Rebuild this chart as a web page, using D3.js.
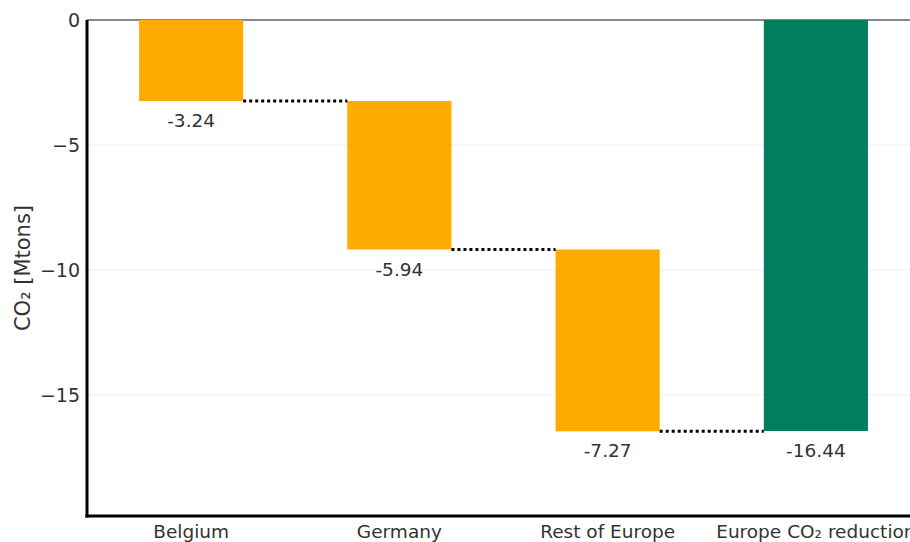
<!DOCTYPE html>
<html><head><meta charset="utf-8">
<script src="https://cdn.jsdelivr.net/npm/d3@7"></script>
<style>body{margin:0;background:#fff}svg{display:block;font-family:"DejaVu Sans",Verdana,sans-serif}</style>
</head><body>
<svg id="c" width="910" height="542"></svg>
<script>
const categories = ["Belgium","Germany","Rest of Europe","Europe CO₂ reduction"];
const deltas = [-3.24, -5.94, -7.27];
const totalValue = -16.44;
const labels = ["-3.24","-5.94","-7.27","-16.44"];
const yTicks = [0,-5,-10,-15];
const yTitle = "CO₂ [Mtons]";

(function(){
const svg = d3.select("#c");
const mLeft = 87, mTop = 20, mBottom = 516, mRight = 920;
const x = d3.scaleBand().domain(categories).range([mLeft, mRight]).paddingInner(0.5).paddingOuter(0.25);
const y = d3.scaleLinear().domain([-19.84, 0]).range([mBottom, mTop]);

let cum = 0;
const bars = deltas.map((d,i)=>{ const b = {cat:categories[i], y0:cum, y1:cum+d, total:false}; cum += d; return b; });
bars.push({cat:categories[3], y0:0, y1:totalValue, total:true});

svg.append("g").selectAll("line").data(yTicks.filter(t=>t!==0)).join("line")
  .attr("x1", mLeft).attr("x2", 910).attr("y1", d=>y(d)).attr("y2", d=>y(d))
  .attr("stroke", "#eeeeee").attr("stroke-width", 1);

svg.append("line").attr("x1", mLeft).attr("x2", 910).attr("y1", y(0)).attr("y2", y(0))
  .attr("stroke", "#888").attr("stroke-width", 2);

svg.append("g").selectAll("rect").data(bars).join("rect")
  .attr("x", d=>x(d.cat)).attr("width", x.bandwidth())
  .attr("y", d=>y(Math.max(d.y0,d.y1))).attr("height", d=>Math.abs(y(d.y0)-y(d.y1)))
  .attr("fill", d=>d.total ? "#007F5F" : "#FFAA00");

svg.append("g").selectAll("line").data(bars.slice(0,-1)).join("line")
  .attr("x1", d=>x(d.cat)+x.bandwidth()).attr("x2", (d,i)=>x(categories[i+1]))
  .attr("y1", d=>y(d.y1)).attr("y2", d=>y(d.y1))
  .attr("stroke", "#000").attr("stroke-width", 3).attr("stroke-dasharray", "3,3");

svg.append("g").selectAll("text").data(bars).join("text")
  .attr("x", d=>x(d.cat)+x.bandwidth()/2).attr("y", d=>y(Math.min(d.y0,d.y1))+26)
  .attr("text-anchor","middle").attr("font-size", 18.5).attr("fill","#333")
  .text((d,i)=>labels[i]);

const ya = svg.append("g").attr("transform",`translate(${mLeft},0)`)
  .call(d3.axisLeft(y).tickValues(yTicks).tickSize(0).tickPadding(7).tickFormat(d=>String(d).replace("-","−")));
ya.select(".domain").remove();
ya.selectAll("text").attr("font-size", 19).attr("fill","#333").attr("font-family","DejaVu Sans, sans-serif");

const xa = svg.append("g").attr("transform",`translate(0,${mBottom})`)
  .call(d3.axisBottom(x).tickSize(0).tickPadding(9));
xa.select(".domain").remove();
xa.selectAll("text").attr("font-size", 18.5).attr("fill","#333").attr("font-family","DejaVu Sans, sans-serif");

svg.append("line").attr("x1", mLeft).attr("x2", mLeft).attr("y1", mTop).attr("y2", mBottom+1.5).attr("stroke","#000").attr("stroke-width",3);
svg.append("line").attr("x1", mLeft-1.5).attr("x2", 910).attr("y1", mBottom).attr("y2", mBottom).attr("stroke","#000").attr("stroke-width",3);

svg.append("text").attr("transform",`translate(30,${(mTop+mBottom)/2}) rotate(-90)`)
  .attr("text-anchor","middle").attr("font-size", 21).attr("fill","#333").text(yTitle);
})();
</script>
</body></html>
